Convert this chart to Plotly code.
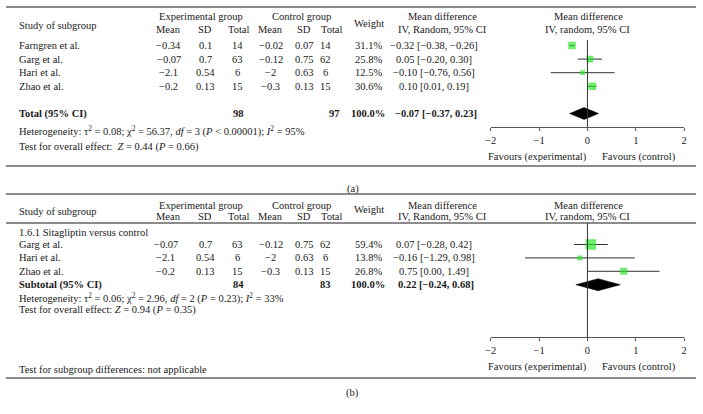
"""Forest plots (a) and (b): mean difference, IV random, 95% CI."""

import math

import plotly.graph_objects as go

# ---- data: panel (a) -------------------------------------------------------
studies_a = ["Farngren et al.", "Garg et al.", "Hari et al.", "Zhao et al."]
exp_mean_a = [-0.34, -0.07, -2.1, -0.2]
exp_sd_a = [0.1, 0.7, 0.54, 0.13]
exp_n_a = [14, 63, 6, 15]
ctl_mean_a = [-0.02, -0.12, -2, -0.3]
ctl_sd_a = [0.07, 0.75, 0.63, 0.13]
ctl_n_a = [14, 62, 6, 15]
weight_a = [31.1, 25.8, 12.5, 30.6]
md_a = [-0.32, 0.05, -0.10, 0.10]
lo_a = [-0.38, -0.20, -0.76, 0.01]
hi_a = [-0.26, 0.30, 0.56, 0.19]
pooled_a = [-0.07, -0.37, 0.23]
totals_a = [98, 97]

# ---- data: panel (b) -------------------------------------------------------
studies_b = ["Garg et al.", "Hari et al.", "Zhao et al."]
exp_mean_b = [-0.07, -2.1, -0.2]
exp_sd_b = [0.7, 0.54, 0.13]
exp_n_b = [63, 6, 15]
ctl_mean_b = [-0.12, -2, -0.3]
ctl_sd_b = [0.75, 0.63, 0.13]
ctl_n_b = [62, 6, 15]
weight_b = [59.4, 13.8, 26.8]
md_b = [0.07, -0.16, 0.75]
lo_b = [-0.28, -1.29, 0.00]
hi_b = [0.42, 0.98, 1.49]
pooled_b = [0.22, -0.24, 0.68]
totals_b = [84, 83]

x_ticks = [-2, -1, 0, 1, 2]

# ---- style -----------------------------------------------------------------
W, H = 703, 414
_FONT = "Liberation Serif, Times New Roman, serif"
_SIZE = 10.5
_TXT = "#1a1a1a"
_RULE = "#666666"
_GREEN = "#2EE62E"
_X_LEFT, _X_RIGHT = 491, 687


def px(x):
    return x / W


def py(y):
    return 1 - y / H


def num(v):
    return str(v).replace("-", "\u2212")


def fmt2(v):
    return f"{v:.2f}".replace("-", "\u2212")


def ci_text(m, lo, hi):
    return f"{fmt2(m)} [{fmt2(lo)}, {fmt2(hi)}]"


fig = go.Figure()


def text(x, y, s, anchor="center", bold=False):
    if bold:
        s = f"<b>{s}</b>"
    fig.add_annotation(
        x=px(x), y=py(y), xref="paper", yref="paper", text=s,
        showarrow=False, xanchor=anchor, yanchor="middle", borderpad=0,
        font=dict(family=_FONT, size=_SIZE, color=_TXT),
    )


def rule(y):
    fig.add_shape(type="line", xref="paper", yref="paper",
                  x0=px(0), x1=px(699), y0=py(y), y1=py(y),
                  line=dict(color=_RULE, width=1.5))


def draw_panel(k, g, studies, em, esd, en, cm, csd, cn, w, md, lo, hi,
               pooled, totals, pooled_label, het, test):
    n = len(studies)
    rows = list(range(n))
    prow = n + g["pooled_gap"]
    ypx = lambda r: g["row0"] + r * g["step"]

    # header
    rule(g["top"])
    text(12, g["study_h"], "Study of subgroup", "left")
    text(198, g["h1"], "Experimental group")
    text(299, g["h1"], "Control group")
    for x, s in [(165, "Mean"), (202, "SD"), (236, "Total"),
                 (268, "Mean"), (302, "SD"), (330, "Total")]:
        text(x, g["h2"], s)
    text(368, g["weight_h"], "Weight")
    text(442, g["h1"], "Mean difference")
    text(442, g["h2"], "IV, Random, 95% CI")
    text(590, g["h1"], "Mean difference")
    text(589, g["h2"], "IV, random, 95% CI")
    if g.get("underline"):
        rule(g["underline"])
    if g.get("group"):
        text(12, g["group"][0], g["group"][1], "left")

    # study rows
    for i in rows:
        y = ypx(i)
        text(12, y, studies[i], "left")
        text(g["c_em"], y, num(em[i]))
        text(202, y, num(esd[i]))
        text(235, y, num(en[i]))
        text(268, y, num(cm[i]))
        text(302, y, num(csd[i]))
        text(324, y, num(cn[i]))
        text(367, y, f"{w[i]:.1f}%")
        text(434, y, ci_text(md[i], lo[i], hi[i]))

    yp = ypx(prow)
    text(12, yp, pooled_label, "left", bold=True)
    text(236, yp, num(totals[0]), bold=True)
    text(g["c_tot2"], yp, num(totals[1]), bold=True)
    text(367, yp, f"{sum(w):.1f}%", bold=True)
    text(436, yp, ci_text(*pooled), bold=True)
    text(12, g["het"], het, "left")
    text(12, g["test"], test, "left")

    # forest plot axes
    xa = "xaxis" if k == 1 else f"xaxis{k}"
    ya = "yaxis" if k == 1 else f"yaxis{k}"
    xo = f"xaxis{k + 2}"
    yref = "y" if k == 1 else f"y{k}"
    xref = "x" if k == 1 else f"x{k}"
    dom_y = [py(g["axis"]), py(g["plot_top"])]
    yr = [(g["axis"] - g["row0"]) / g["step"],
          (g["plot_top"] - g["row0"]) / g["step"]]
    axis_common = dict(range=[-2, 2], domain=[px(_X_LEFT), px(_X_RIGHT)],
                       showgrid=False, zeroline=False, showline=True,
                       linecolor="#555", linewidth=1, tickcolor="#555",
                       ticklen=3, tickwidth=1, tickvals=x_ticks, fixedrange=True)
    fig.update_layout(**{
        xa: dict(anchor=yref, ticks="outside",
                 tickfont=dict(family=_FONT, size=_SIZE, color=_TXT),
                 **axis_common),
        xo: dict(anchor=yref, overlaying=xref, ticks="inside",
                 showticklabels=False, **axis_common),
        ya: dict(domain=dom_y, range=yr, visible=False, fixedrange=True),
    })

    fig.add_shape(type="line", xref=xref, yref=f"{yref} domain",
                  x0=0, x1=0, y0=0, y1=1, line=dict(color="#333", width=1))

    fig.add_trace(go.Scatter(
        x=md, y=rows, mode="markers", xaxis=xref, yaxis=yref,
        marker=dict(symbol="square", color=_GREEN,
                    size=[1.35 * math.sqrt(v) for v in w], line=dict(width=0)),
        error_x=dict(type="data", symmetric=False,
                     array=[h - m for h, m in zip(hi, md)],
                     arrayminus=[m - l for m, l in zip(md, lo)],
                     width=0, thickness=1, color="#333"),
        hoverinfo="skip", showlegend=False,
    ))
    m, l, h = pooled
    dh = 6 / g["step"]
    fig.add_trace(go.Scatter(
        x=[l, m, h, m, l], y=[prow, prow - dh, prow, prow + dh, prow],
        mode="lines", fill="toself", fillcolor="black",
        line=dict(color="black", width=0.5), xaxis=xref, yaxis=yref,
        hoverinfo="skip", showlegend=False,
    ))

    text(538, g["fav"], "Favours (experimental)")
    text(641, g["fav"], "Favours (control)")
    if g.get("subtest"):
        text(12, g["subtest"], "Test for subgroup differences: not applicable", "left")
    rule(g["bottom"])
    text(351, g["cap"], g["cap_text"])


geo_a = dict(top=7, h1=17, h2=30, study_h=25, weight_h=23, row0=45.5, step=13.6,
             pooled_gap=1, c_em=165, c_tot2=333, het=131, test=147, axis=127,
             plot_top=40, fav=157, bottom=166, cap=189, cap_text="(a)")
geo_b = dict(top=194, h1=205, h2=216, study_h=211, weight_h=209, underline=223,
             group=(233, "1.6.1 Sitagliptin versus control"), row0=244.5,
             step=13.4, pooled_gap=0, c_em=162, c_tot2=324, het=298, test=310,
             axis=337, plot_top=223, fav=367, subtest=369, bottom=378, cap=393,
             cap_text="(b)")

draw_panel(1, geo_a, studies_a, exp_mean_a, exp_sd_a, exp_n_a, ctl_mean_a,
           ctl_sd_a, ctl_n_a, weight_a, md_a, lo_a, hi_a, pooled_a, totals_a,
           "Total (95% CI)",
           "Heterogeneity: τ<sup>2</sup> = 0.08; χ<sup>2</sup> = 56.37, <i>df</i> = 3 "
           "(<i>P</i> &lt; 0.00001); <i>I</i><sup>2</sup> = 95%",
           "Test for overall effect:  <i>Z</i> = 0.44 (<i>P</i> = 0.66)")
draw_panel(2, geo_b, studies_b, exp_mean_b, exp_sd_b, exp_n_b, ctl_mean_b,
           ctl_sd_b, ctl_n_b, weight_b, md_b, lo_b, hi_b, pooled_b, totals_b,
           "Subtotal (95% CI)",
           "Heterogeneity: τ<sup>2</sup> = 0.06; χ<sup>2</sup> = 2.96, <i>df</i> = 2 "
           "(<i>P</i> = 0.23); <i>I</i><sup>2</sup> = 33%",
           "Test for overall effect: <i>Z</i> = 0.94 (<i>P</i> = 0.35)")

fig.update_layout(
    width=W, height=H,
    margin=dict(l=0, r=0, t=0, b=0),
    paper_bgcolor="white", plot_bgcolor="rgba(0,0,0,0)",
    font=dict(family=_FONT, size=_SIZE, color=_TXT),
    showlegend=False,
)

# the page body has a default 8px margin; drop it so the figure sits at 0,0
fig.write_html("out.html",
               config={"displayModeBar": False},
               post_script="document.body.style.margin='0';"
                           "document.body.style.overflow='hidden';")
